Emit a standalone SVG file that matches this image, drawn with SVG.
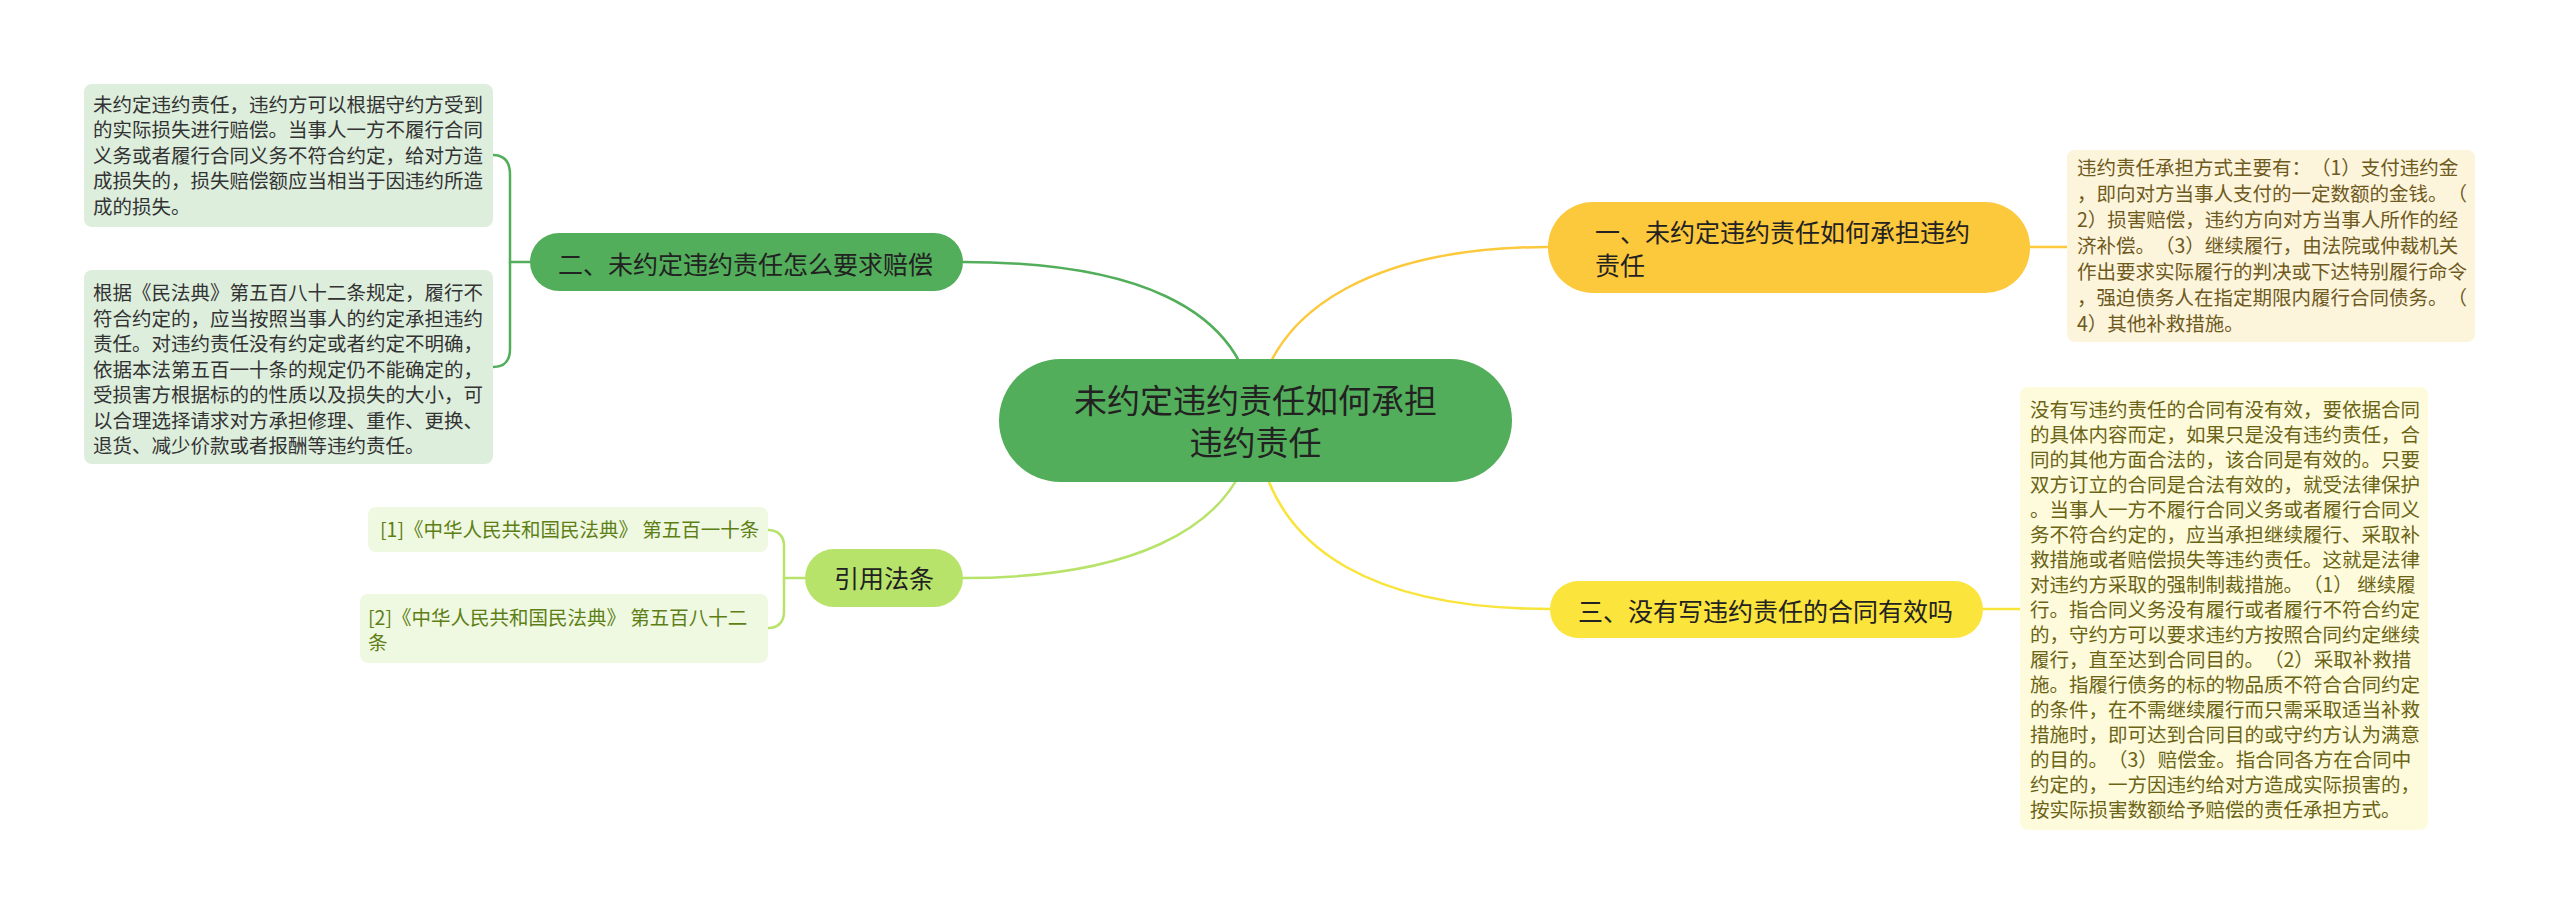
<svg xmlns="http://www.w3.org/2000/svg" width="2560" height="916" viewBox="0 0 2560 916">
<style>
text{font-family:"Noto Sans CJK SC","Noto Sans",sans-serif;text-spacing-trim:space-all;}
.c{fill:none;stroke-width:2.5;stroke-linecap:round;}
.g{stroke:#52ae5a;}
.o{stroke:#fcc83c;}
.y{stroke:#f8e43a;}
.l{stroke:#b8e36a;}
.sm{font-size:19.5px;}
.big{font-size:25px;fill:#222;}
.lt{fill:#333;}
.rt1{fill:#6e5a1c;}
.rt3{fill:#6b6416;}
.rf{fill:#5d7f16;}
</style>
<rect width="2560" height="916" fill="#ffffff"/>
<g id="connectors">
<path class="c g" d="M1255,420 C1248,300 1120,262 963,262"/>
<path class="c o" d="M1255,420 C1265,300 1390,247 1548,247"/>
<path class="c l" d="M1255,420 C1245,540 1110,578 963,578"/>
<path class="c y" d="M1255,420 C1265,560 1390,609 1550,609"/>
<path class="c o" d="M2030,247 L2067,247"/>
<path class="c y" d="M1983,609 L2020,609"/>
<path class="c g" d="M530,262 L510,262"/>
<path class="c g" d="M493,155 C504,155 510,162 510,175 L510,349 C510,361 504,367 493,367"/>
<path class="c l" d="M805,578 L784,578"/>
<path class="c l" d="M768,530 C778,530 784,536 784,546 L784,612 C784,622 778,628 768,628"/>
</g>
<g id="root">
<rect x="999" y="359" width="513" height="123" rx="61.5" fill="#52ae5a"/>
<text font-size="33" fill="#222" text-anchor="middle"><tspan x="1255.5" y="412.5">未约定违约责任如何承担</tspan><tspan x="1255.5" y="454.5">违约责任</tspan></text>
</g>
<g id="n1">
<rect x="1548" y="202" width="482" height="91" rx="45" fill="#fcc83c"/>
<text class="big"><tspan x="1595" y="241.5">一、未约定违约责任如何承担违约</tspan><tspan x="1595" y="274.5">责任</tspan></text>
</g>
<g id="n1d">
<rect x="2067" y="150" width="408" height="192" rx="8" fill="#fdf4dc"/>
<text class="sm rt1">
<tspan x="2077" y="175.4">违约责任承担方式主要有：（1）支付违约金</tspan>
<tspan x="2077" y="201.4">，即向对方当事人支付的一定数额的金钱。（</tspan>
<tspan x="2077" y="227.4">2）损害赔偿，违约方向对方当事人所作的经</tspan>
<tspan x="2077" y="253.4">济补偿。（3）继续履行，由法院或仲裁机关</tspan>
<tspan x="2077" y="279.4">作出要求实际履行的判决或下达特别履行命令</tspan>
<tspan x="2077" y="305.4">，强迫债务人在指定期限内履行合同债务。（</tspan>
<tspan x="2077" y="331.4">4）其他补救措施。</tspan>
</text>
</g>
<g id="n2">
<rect x="530" y="233" width="433" height="58" rx="29" fill="#52ae5a"/>
<text class="big" x="558" y="273.5">二、未约定违约责任怎么要求赔偿</text>
</g>
<g id="n2a">
<rect x="84" y="84" width="409" height="143" rx="8" fill="#ddeedd"/>
<text class="sm lt">
<tspan x="93" y="111.9">未约定违约责任，违约方可以根据守约方受到</tspan>
<tspan x="93" y="137.4">的实际损失进行赔偿。当事人一方不履行合同</tspan>
<tspan x="93" y="162.9">义务或者履行合同义务不符合约定，给对方造</tspan>
<tspan x="93" y="188.4">成损失的，损失赔偿额应当相当于因违约所造</tspan>
<tspan x="93" y="213.9">成的损失。</tspan>
</text>
</g>
<g id="n2b">
<rect x="84" y="270" width="409" height="194" rx="8" fill="#ddeedd"/>
<text class="sm lt">
<tspan x="93" y="300.4">根据《民法典》第五百八十二条规定，履行不</tspan>
<tspan x="93" y="325.9">符合约定的，应当按照当事人的约定承担违约</tspan>
<tspan x="93" y="351.4">责任。对违约责任没有约定或者约定不明确，</tspan>
<tspan x="93" y="376.9">依据本法第五百一十条的规定仍不能确定的，</tspan>
<tspan x="93" y="402.4">受损害方根据标的的性质以及损失的大小，可</tspan>
<tspan x="93" y="427.9">以合理选择请求对方承担修理、重作、更换、</tspan>
<tspan x="93" y="453.4">退货、减少价款或者报酬等违约责任。</tspan>
</text>
</g>
<g id="n3">
<rect x="1550" y="581" width="433" height="57" rx="28.5" fill="#fbe43c"/>
<text class="big" x="1578" y="620.5">三、没有写违约责任的合同有效吗</text>
</g>
<g id="n3d">
<rect x="2020" y="387" width="408" height="443" rx="8" fill="#fefbdc"/>
<text class="sm rt3">
<tspan x="2030" y="416.9">没有写违约责任的合同有没有效，要依据合同</tspan>
<tspan x="2030" y="441.9">的具体内容而定，如果只是没有违约责任，合</tspan>
<tspan x="2030" y="466.9">同的其他方面合法的，该合同是有效的。只要</tspan>
<tspan x="2030" y="491.9">双方订立的合同是合法有效的，就受法律保护</tspan>
<tspan x="2030" y="516.9">。当事人一方不履行合同义务或者履行合同义</tspan>
<tspan x="2030" y="541.9">务不符合约定的，应当承担继续履行、采取补</tspan>
<tspan x="2030" y="566.9">救措施或者赔偿损失等违约责任。这就是法律</tspan>
<tspan x="2030" y="591.9">对违约方采取的强制制裁措施。（1） 继续履</tspan>
<tspan x="2030" y="616.9">行。指合同义务没有履行或者履行不符合约定</tspan>
<tspan x="2030" y="641.9">的，守约方可以要求违约方按照合同约定继续</tspan>
<tspan x="2030" y="666.9">履行，直至达到合同目的。（2）采取补救措</tspan>
<tspan x="2030" y="691.9">施。指履行债务的标的物品质不符合合同约定</tspan>
<tspan x="2030" y="716.9">的条件，在不需继续履行而只需采取适当补救</tspan>
<tspan x="2030" y="741.9">措施时，即可达到合同目的或守约方认为满意</tspan>
<tspan x="2030" y="766.9">的目的。（3）赔偿金。指合同各方在合同中</tspan>
<tspan x="2030" y="791.9">约定的，一方因违约给对方造成实际损害的，</tspan>
<tspan x="2030" y="816.9">按实际损害数额给予赔偿的责任承担方式。</tspan>
</text>
</g>
<g id="n4">
<rect x="805" y="549" width="158" height="58" rx="29" fill="#b8e36a"/>
<text class="big" x="884" y="587.5" text-anchor="middle">引用法条</text>
</g>
<g id="n4a">
<rect x="368" y="507" width="400" height="45" rx="8" fill="#eff8e0"/>
<text class="sm rf" x="380" y="537.4">[1]《中华人民共和国民法典》 第五百一十条</text>
</g>
<g id="n4b">
<rect x="360" y="594" width="408" height="69" rx="8" fill="#eff8e0"/>
<text class="sm rf"><tspan x="368" y="625.4">[2]《中华人民共和国民法典》 第五百八十二</tspan><tspan x="368" y="650.4">条</tspan></text>
</g>
</svg>
